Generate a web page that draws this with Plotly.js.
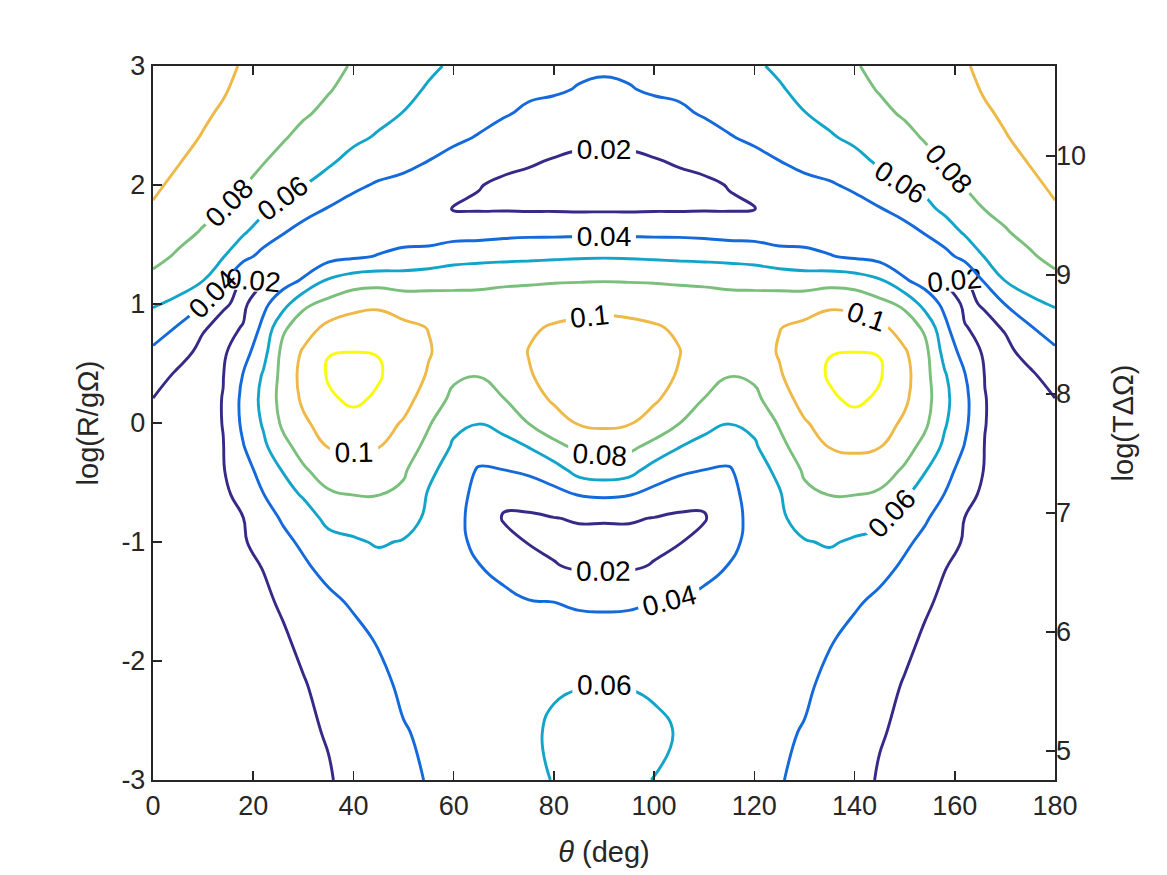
<!DOCTYPE html>
<html><head><meta charset="utf-8">
<script src="https://cdn.plot.ly/plotly-3.0.1.min.js"></script>
<style>html,body{margin:0;padding:0;background:#fff}#chart{width:1167px;height:875px}</style>
</head><body><div id="chart"></div>
<script>
// theta (deg) grid columns
const thetaDeg = [0,5,10,14,18,22,26,30,35,40,45,50,55,60,65,70,75,80,85,90,95,100,105,110,115,120,125,130,135,140,145,150,154,158,162,166,170,175,180];
// log(R/gOmega) grid rows
const logRg = [-3,-2.6,-2.2,-1.8,-1.5,-1.2,-1.0,-0.8,-0.6,-0.4,-0.2,0,0.2,0.4,0.6,0.8,1.0,1.2,1.4,1.6,1.8,2.0,2.2,2.4,2.6,2.8,3.0];
// values, one row per logRg value
const zRows = [
[0.008,0.009,0.010,0.011,0.012,0.013,0.015,0.017,0.019,0.024,0.029,0.034,0.0415,0.046,0.050,0.054,0.057,0.0605,0.064,0.066,0.064,0.0595,0.057,0.054,0.050,0.046,0.0415,0.034,0.029,0.024,0.019,0.017,0.015,0.013,0.012,0.011,0.010,0.009,0.008],
[0.008,0.009,0.010,0.011,0.0125,0.0135,0.0155,0.018,0.0208,0.0265,0.031,0.0385,0.044,0.0475,0.050,0.053,0.0565,0.063,0.0655,0.067,0.0655,0.063,0.059,0.053,0.050,0.0475,0.044,0.0385,0.031,0.0265,0.0208,0.018,0.0155,0.0135,0.0125,0.011,0.010,0.009,0.008],
[0.009,0.0095,0.0105,0.0115,0.013,0.0145,0.0165,0.019,0.025,0.030,0.0345,0.044,0.0465,0.049,0.0495,0.0515,0.0545,0.058,0.0595,0.0603,0.0595,0.058,0.0545,0.0515,0.0495,0.049,0.0465,0.044,0.0345,0.030,0.025,0.019,0.0165,0.0145,0.013,0.0115,0.0105,0.0095,0.009],
[0.009,0.0095,0.011,0.012,0.014,0.016,0.0185,0.0235,0.030,0.035,0.042,0.0475,0.049,0.049,0.048,0.049,0.050,0.051,0.052,0.052,0.052,0.051,0.050,0.049,0.048,0.049,0.049,0.0475,0.042,0.035,0.030,0.0235,0.0185,0.016,0.014,0.012,0.011,0.0095,0.009],
[0.010,0.010,0.011,0.012,0.015,0.0175,0.022,0.029,0.036,0.0425,0.0475,0.051,0.051,0.048,0.0455,0.044,0.0405,0.0398,0.036,0.035,0.036,0.0398,0.0405,0.044,0.0455,0.048,0.051,0.051,0.0475,0.0425,0.036,0.029,0.022,0.0175,0.015,0.012,0.011,0.010,0.010],
[0.010,0.010,0.011,0.013,0.017,0.0205,0.029,0.0375,0.046,0.052,0.055,0.0545,0.053,0.046,0.0405,0.035,0.029,0.021,0.0175,0.017,0.0175,0.021,0.029,0.035,0.0405,0.046,0.053,0.0545,0.055,0.052,0.046,0.0375,0.029,0.0205,0.017,0.013,0.011,0.010,0.010],
[0.011,0.011,0.0115,0.014,0.0185,0.026,0.036,0.043,0.054,0.058,0.0615,0.059,0.055,0.045,0.036,0.026,0.019,0.0165,0.015,0.0145,0.015,0.0165,0.019,0.026,0.036,0.045,0.055,0.059,0.0615,0.058,0.054,0.043,0.036,0.026,0.0185,0.014,0.0115,0.011,0.011],
[0.012,0.0115,0.012,0.015,0.0198,0.033,0.042,0.051,0.065,0.067,0.070,0.067,0.057,0.045,0.034,0.0185,0.0175,0.0195,0.0215,0.0215,0.0215,0.0195,0.0175,0.0185,0.034,0.045,0.057,0.067,0.070,0.067,0.065,0.051,0.042,0.033,0.0198,0.015,0.012,0.0115,0.012],
[0.013,0.012,0.0125,0.017,0.025,0.0395,0.053,0.062,0.077,0.0805,0.0805,0.076,0.0585,0.047,0.035,0.0245,0.0275,0.034,0.041,0.043,0.041,0.034,0.0275,0.0245,0.035,0.047,0.0585,0.076,0.0805,0.0805,0.077,0.062,0.053,0.0395,0.025,0.017,0.0125,0.012,0.013],
[0.014,0.013,0.013,0.019,0.032,0.047,0.061,0.077,0.090,0.092,0.090,0.0825,0.064,0.052,0.038,0.0395,0.0435,0.051,0.067,0.071,0.067,0.051,0.0435,0.0395,0.038,0.052,0.064,0.0825,0.090,0.092,0.090,0.077,0.061,0.047,0.032,0.019,0.013,0.013,0.014],
[0.016,0.014,0.0135,0.0195,0.039,0.056,0.074,0.088,0.1005,0.103,0.1005,0.091,0.074,0.0575,0.0495,0.054,0.0605,0.0745,0.084,0.0865,0.084,0.0745,0.0605,0.054,0.0495,0.0575,0.074,0.091,0.1005,0.103,0.1005,0.088,0.074,0.056,0.039,0.0195,0.0135,0.014,0.016],
[0.018,0.0145,0.013,0.0205,0.044,0.062,0.084,0.097,0.108,0.114,0.107,0.0985,0.082,0.0645,0.0605,0.066,0.0805,0.092,0.1015,0.104,0.1015,0.092,0.0805,0.066,0.0605,0.0645,0.082,0.0985,0.107,0.114,0.108,0.097,0.084,0.062,0.044,0.0205,0.013,0.0145,0.018],
[0.0196,0.0155,0.014,0.0205,0.045,0.065,0.088,0.103,0.1175,0.123,0.1175,0.106,0.092,0.075,0.072,0.0795,0.092,0.1025,0.108,0.1095,0.108,0.1025,0.092,0.0795,0.072,0.075,0.092,0.106,0.1175,0.123,0.1175,0.103,0.088,0.065,0.045,0.0205,0.014,0.0155,0.0196],
[0.0283,0.0168,0.0145,0.0195,0.041,0.062,0.087,0.106,0.1215,0.127,0.1215,0.112,0.098,0.0835,0.0805,0.088,0.099,0.1045,0.110,0.1115,0.110,0.1045,0.099,0.088,0.0805,0.0835,0.098,0.112,0.1215,0.127,0.1215,0.106,0.087,0.062,0.041,0.0195,0.0145,0.0168,0.0283],
[0.037,0.0272,0.015,0.017,0.032,0.053,0.086,0.102,0.1195,0.1198,0.1195,0.111,0.1015,0.0905,0.087,0.092,0.1005,0.105,0.1085,0.1105,0.1085,0.105,0.1005,0.092,0.087,0.0905,0.1015,0.111,0.1195,0.1198,0.1195,0.102,0.086,0.053,0.032,0.017,0.015,0.0272,0.037],
[0.0487,0.0383,0.0215,0.015,0.021,0.045,0.077,0.091,0.105,0.108,0.109,0.104,0.0995,0.093,0.090,0.093,0.098,0.1015,0.1035,0.1045,0.1035,0.1015,0.098,0.093,0.090,0.093,0.0995,0.104,0.109,0.108,0.105,0.091,0.077,0.045,0.021,0.015,0.0215,0.0383,0.0487],
[0.062,0.0558,0.0402,0.022,0.016,0.035,0.053,0.076,0.086,0.095,0.097,0.092,0.090,0.088,0.0875,0.089,0.091,0.0935,0.095,0.096,0.095,0.0935,0.091,0.089,0.0875,0.088,0.090,0.092,0.097,0.095,0.086,0.076,0.053,0.035,0.016,0.022,0.0402,0.0558,0.062],
[0.0758,0.0678,0.0605,0.0429,0.019,0.0175,0.032,0.042,0.062,0.070,0.072,0.070,0.072,0.074,0.075,0.0765,0.077,0.078,0.0785,0.079,0.0785,0.078,0.077,0.0765,0.075,0.074,0.072,0.070,0.072,0.070,0.062,0.042,0.032,0.0175,0.019,0.0429,0.0605,0.0678,0.0758],
[0.0847,0.078,0.0695,0.061,0.046,0.034,0.0225,0.026,0.033,0.037,0.041,0.045,0.047,0.052,0.054,0.055,0.056,0.057,0.058,0.0585,0.058,0.057,0.056,0.055,0.054,0.052,0.047,0.045,0.041,0.037,0.033,0.026,0.0225,0.034,0.046,0.061,0.0695,0.078,0.0847],
[0.0915,0.0846,0.0786,0.0708,0.0619,0.0504,0.041,0.033,0.028,0.028,0.030,0.032,0.031,0.033,0.033,0.035,0.036,0.036,0.0365,0.037,0.0365,0.036,0.036,0.035,0.033,0.033,0.031,0.032,0.030,0.028,0.028,0.033,0.041,0.0504,0.0619,0.0708,0.0786,0.0846,0.0915],
[0.0983,0.0904,0.0842,0.0805,0.0714,0.0639,0.055,0.047,0.039,0.033,0.030,0.028,0.0225,0.0195,0.0185,0.0185,0.018,0.018,0.0175,0.0175,0.0175,0.018,0.018,0.0185,0.0185,0.0195,0.0225,0.028,0.030,0.033,0.039,0.047,0.055,0.0639,0.0714,0.0805,0.0842,0.0904,0.0983],
[0.103,0.0962,0.0891,0.0846,0.081,0.0726,0.0647,0.0605,0.052,0.0435,0.038,0.035,0.030,0.025,0.0205,0.018,0.016,0.0145,0.013,0.0125,0.013,0.0145,0.016,0.018,0.0205,0.025,0.030,0.035,0.038,0.0435,0.052,0.0605,0.0647,0.0726,0.081,0.0846,0.0891,0.0962,0.103],
[0.106,0.101,0.0941,0.089,0.0855,0.081,0.074,0.068,0.063,0.054,0.049,0.045,0.0398,0.035,0.031,0.023,0.0215,0.019,0.017,0.0165,0.017,0.019,0.0215,0.023,0.031,0.035,0.0398,0.045,0.049,0.054,0.063,0.068,0.074,0.081,0.0855,0.089,0.0941,0.101,0.106],
[0.109,0.105,0.099,0.0934,0.089,0.085,0.0815,0.075,0.070,0.064,0.058,0.053,0.047,0.043,0.039,0.033,0.029,0.0255,0.0235,0.023,0.0235,0.0255,0.029,0.033,0.039,0.043,0.047,0.053,0.058,0.064,0.070,0.075,0.0815,0.085,0.089,0.0934,0.099,0.105,0.109],
[0.111,0.108,0.1024,0.0978,0.092,0.088,0.085,0.082,0.076,0.070,0.065,0.0595,0.053,0.049,0.045,0.0415,0.037,0.034,0.031,0.030,0.031,0.034,0.037,0.0415,0.045,0.049,0.053,0.0595,0.065,0.070,0.076,0.082,0.085,0.088,0.092,0.0978,0.1024,0.108,0.111],
[0.113,0.111,0.105,0.1015,0.0955,0.091,0.088,0.085,0.081,0.075,0.069,0.064,0.0585,0.054,0.050,0.047,0.043,0.042,0.039,0.037,0.039,0.042,0.043,0.047,0.050,0.054,0.0585,0.064,0.069,0.075,0.081,0.085,0.088,0.091,0.0955,0.1015,0.105,0.111,0.113],
[0.115,0.113,0.108,0.104,0.0985,0.094,0.090,0.088,0.085,0.0785,0.072,0.067,0.0625,0.058,0.054,0.051,0.047,0.045,0.043,0.0425,0.043,0.045,0.047,0.051,0.054,0.058,0.0625,0.067,0.072,0.0785,0.085,0.088,0.090,0.094,0.0985,0.104,0.108,0.113,0.115]
];
const contourLevels = [0.02,0.04,0.06,0.08,0.10,0.12];
const levelColors = ['#352a87','#1469db','#12a4c9','#7bbf7c','#efb948','#f9fb0e'];
const xTicks = [0,20,40,60,80,100,120,140,160,180];
const leftTicks = [-3,-2,-1,0,1,2,3];
const rightTicks = [5,6,7,8,9,10];
const rightRange = [4.756,10.756];

const FONT = 'Liberation Sans, Arial, Helvetica, sans-serif';
const ink = '#262626';

const traces = contourLevels.map((lev, i) => ({
  type:'contour', x: thetaDeg, y: logRg, z: zRows,
  autocontour:false,
  contours:{start: lev, end: lev, size: 0.02, coloring:'lines', showlabels:true,
    labelformat: '.2~f', labelfont:{family: FONT, size: 28, color:'#000'}},
  colorscale: [[0, levelColors[i]], [1, levelColors[i]]], showscale:false,
  line:{width:2.9, smoothing:1.3},
  hoverinfo:'skip'
}));
traces.push({type:'scatter', x:[], y:[], yaxis:'y2', showlegend:false, hoverinfo:'skip'});

const layout = {
  width:1167, height:875,
  margin:{l:153, r:112, t:66, b:95},
  paper_bgcolor:'#fff', plot_bgcolor:'#fff',
  showlegend:false,
  font:{family: FONT, color: ink, size:27},
  xaxis:{range:[0,180], tickvals:xTicks, ticktext:xTicks.map(String), ticks:'inside', ticklen:9, tickwidth:1.6,
    tickcolor:ink, showline:true, linecolor:ink, linewidth:2.2, mirror:'ticks', showgrid:false, zeroline:false,
    tickfont:{size:27, color:ink}, title:{text:'<i>θ</i> (deg)', font:{size:29, color:ink}, standoff:22}},
  yaxis:{range:[-3,3], tickvals:leftTicks, ticktext:leftTicks.map(String), ticks:'inside', ticklen:9, tickwidth:1.6,
    tickcolor:ink, showline:true, linecolor:ink, linewidth:2.2, mirror:true, showgrid:false, zeroline:false,
    tickfont:{size:27, color:ink}, title:{text:'log(R/gΩ)', font:{size:29, color:ink}, standoff:14}},
  yaxis2:{overlaying:'y', side:'right', range:rightRange, tickvals:rightTicks, ticktext:rightTicks.map(String),
    ticks:'inside', ticklen:9, tickwidth:1.6, tickcolor:ink, showline:false, showgrid:false, zeroline:false,
    tickfont:{size:27, color:ink}, title:{text:'log(TΔΩ)', font:{size:29, color:ink}, standoff:27}}
};

Plotly.newPlot('chart', traces, layout, {displayModeBar:false, staticPlot:true});
</script>
</body></html>
